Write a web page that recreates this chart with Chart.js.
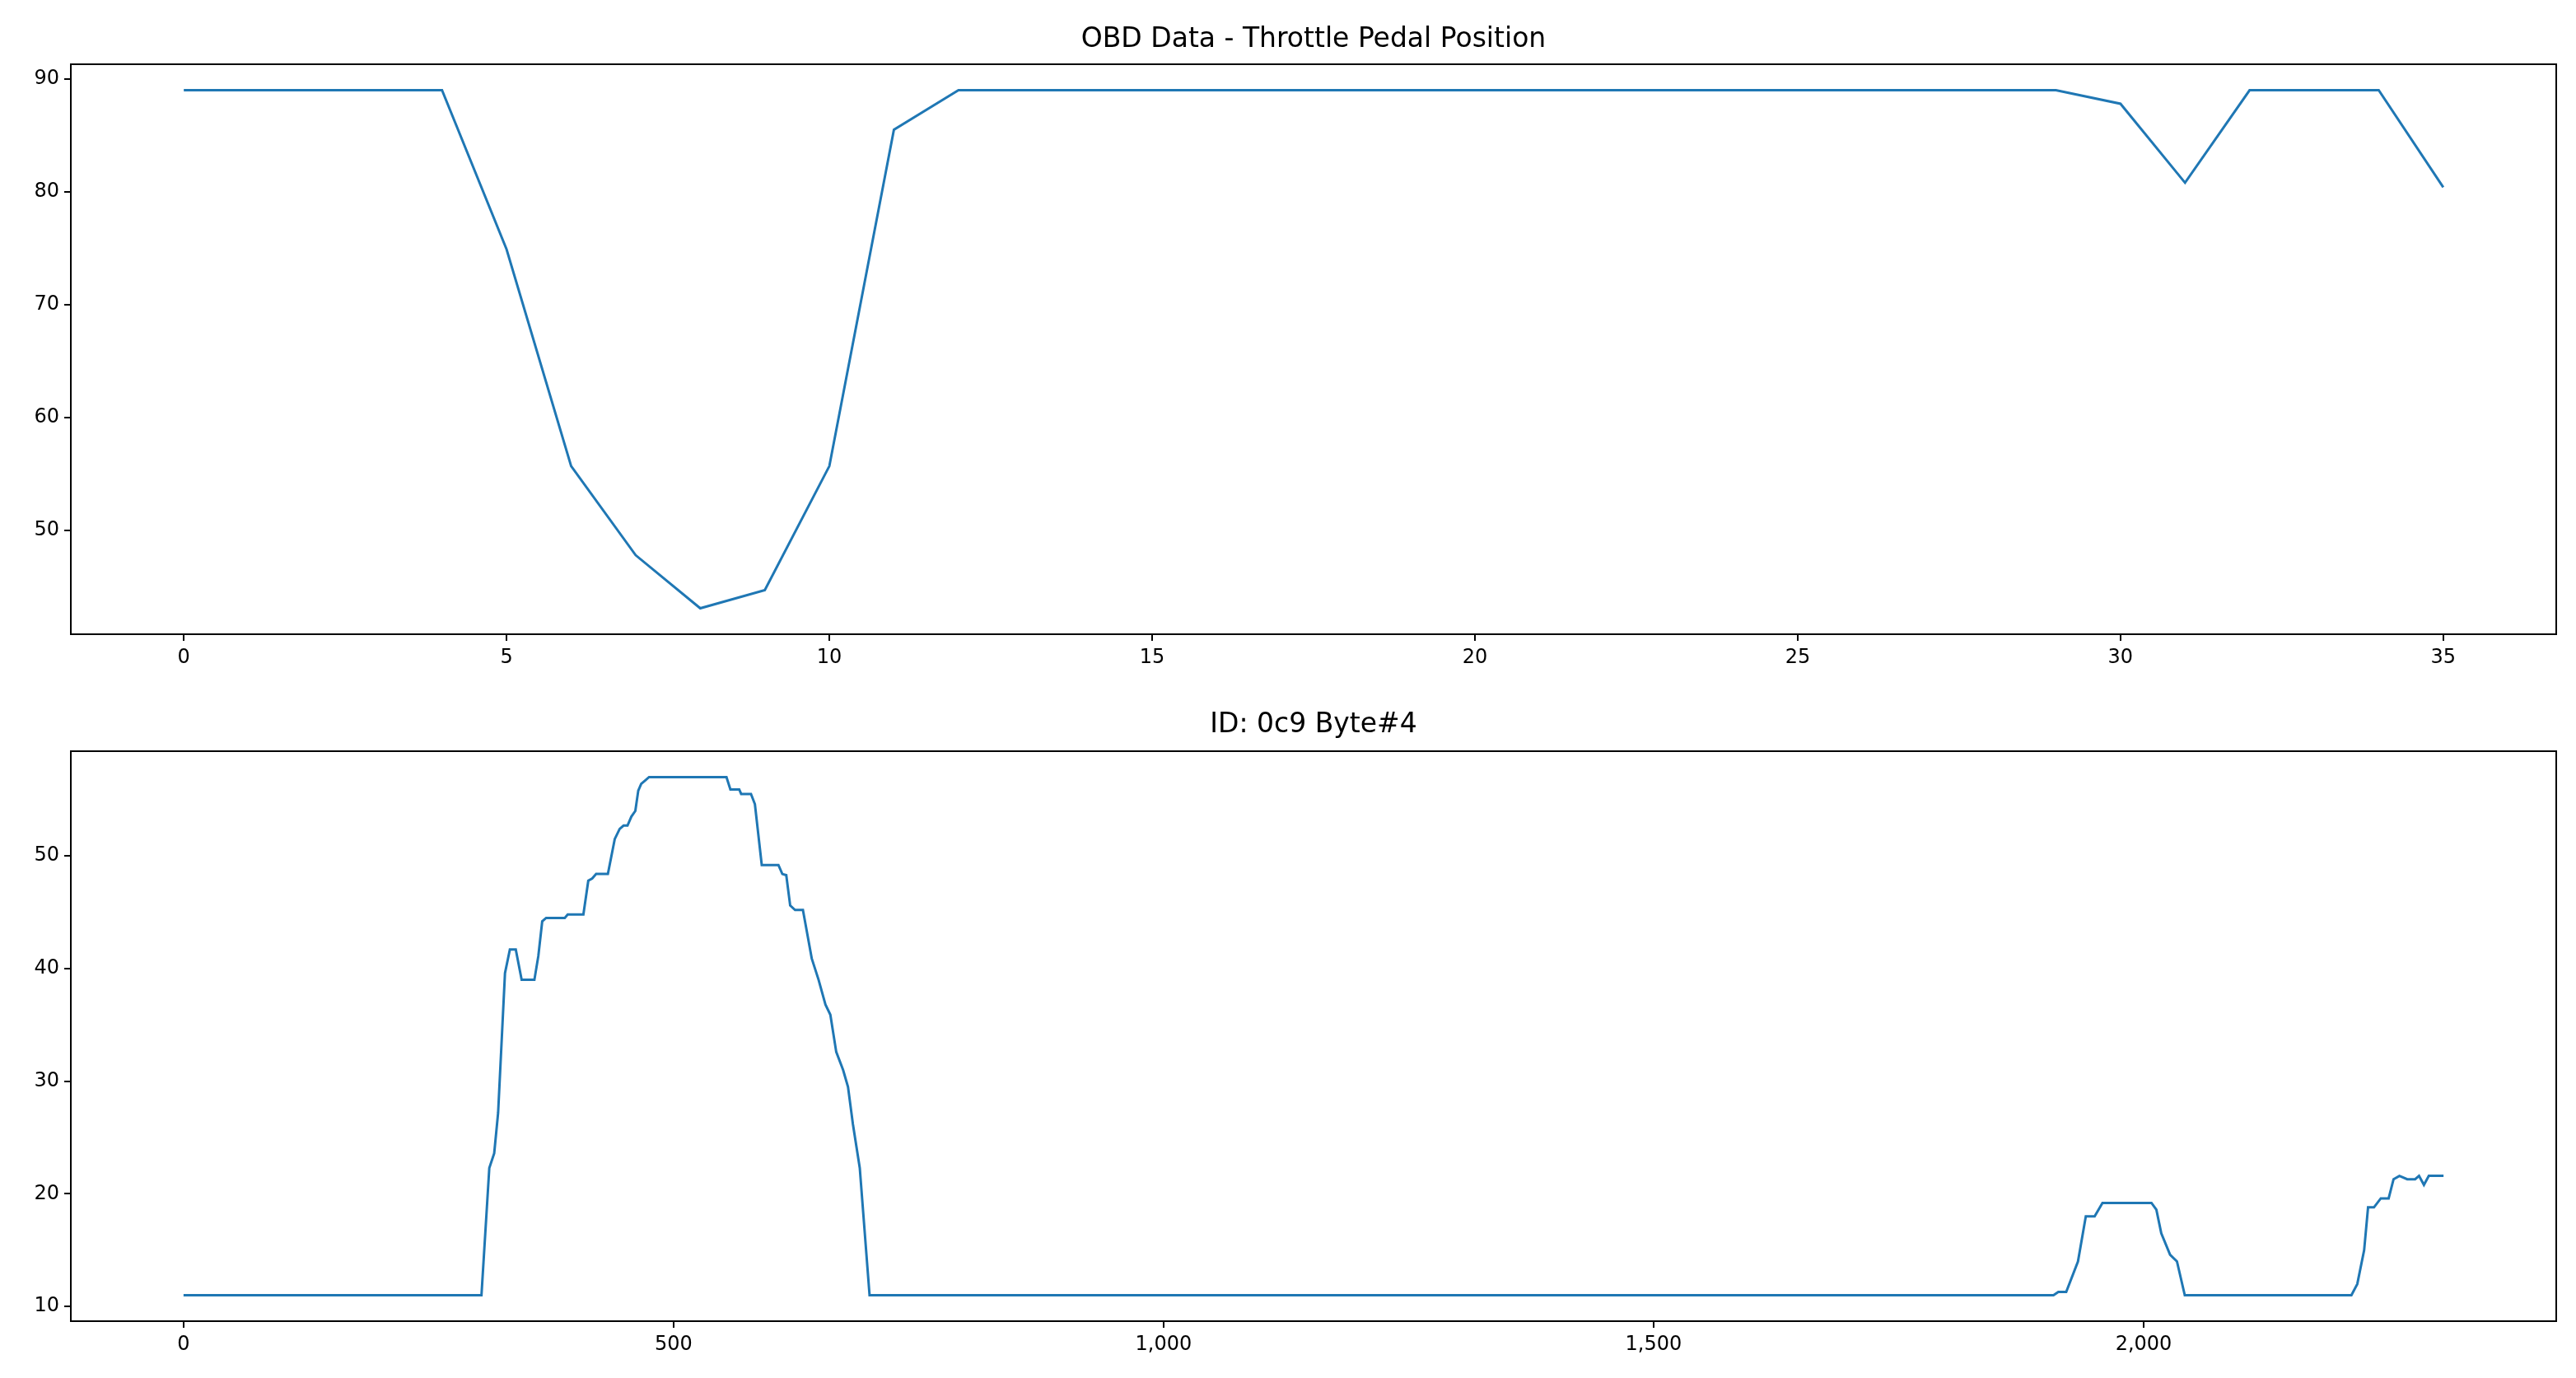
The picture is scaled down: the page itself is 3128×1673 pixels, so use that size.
<!DOCTYPE html>
<html>
<head>
<meta charset="utf-8">
<script src="https://cdn.jsdelivr.net/npm/chart.js@4"></script>
<style>
  body { margin: 0; background: #fff; width: 3128px; height: 1673px; overflow: hidden; font-family: "DejaVu Sans", sans-serif; }
  .box { position: absolute; left: 0; width: 3128px; }
  .ttl { position: absolute; left: 86px; width: 3018px; text-align: center; font-size: 33px; color: #000; }
</style>
</head>
<body>
<div class="box" style="top:0;height:836px"><canvas id="obdChart"></canvas></div>
<div class="ttl" style="top:26px">OBD Data - Throttle Pedal Position</div>
<div class="box" style="top:836px;height:837px"><canvas id="canChart"></canvas></div>
<div class="ttl" style="top:858px">ID: 0c9 Byte#4</div>
<script>
// OBD 데이터 (스로틀 페달 위치)
const obdIdx = [0,1,2,3,4,5,6,7,8,9,10,11,12,13,14,15,16,17,18,19,20,21,22,23,24,25,26,27,28,29,30,31,32,33,34,35];
const obdVal = [89,89,89,89,89,74.9,55.7,47.8,43.1,44.7,55.7,85.5,89,89,89,89,89,89,89,89,89,89,89,89,89,89,89,89,89,89,87.8,80.8,89,89,89,80.4];
const obdTicksX = [0,5,10,15,20,25,30,35];
const obdTicksY = [50,60,70,80,90];

// CAN ID 0c9 Byte#4
const canIdx = [0,304,312,317,321,328,333,339,345,358,362,366,370,389,392,408,413,417,421,433,440,445,449,453,457,461,464,467,471,475,554,558,567,569,579,583,590,607,611,615,619,624,632,641,648,655,660,666,673,678,683,690,700,
  1908,1913,1921,1933,1941,1950,1958,2008,2013,2018,2027,2034,2042,2212,2218,2225,2229,2235,2242,2250,2255,2261,2269,2277,2281,2286,2291,2306];
const canVal = [11,11,22.3,23.6,27.2,39.6,41.7,41.7,39,39,41.1,44.2,44.5,44.5,44.8,44.8,47.8,48,48.4,48.4,51.5,52.4,52.7,52.7,53.5,54,55.8,56.4,56.7,57,57,55.9,55.9,55.5,55.5,54.6,49.2,49.2,48.4,48.3,45.6,45.2,45.2,40.9,39,36.8,35.9,32.6,31,29.5,26.2,22.3,11,
  11,11.3,11.3,14,18,18,19.2,19.2,18.6,16.5,14.6,14,11,11,12,15,18.8,18.8,19.6,19.6,21.3,21.6,21.3,21.3,21.6,20.8,21.6,21.6];
const canTicksX = [0,500,1000,1500,2000];
const canTicksY = [10,20,30,40,50];

const frame = {
  id: 'frame',
  afterDraw(chart) {
    const a = chart.chartArea, c = chart.ctx;
    c.save(); c.strokeStyle = '#000'; c.lineWidth = 2;
    c.strokeRect(a.left, a.top, a.right - a.left, a.bottom - a.top);
    c.restore();
  }
};

function axis(min, max, ticks, isY, size) {
  return {
    type: 'linear', min: min, max: max,
    afterBuildTicks: s => { s.ticks = ticks.map(v => ({ value: v })); },
    afterFit: s => { if (isY) s.width = size; else s.height = size; },
    grid: { drawOnChartArea: false, drawTicks: true, tickLength: 8, color: '#000', lineWidth: 2 },
    border: { display: false },
    ticks: { color: '#000', font: { family: 'DejaVu Sans', size: 24 }, padding: 6, maxRotation: 0, autoSkip: false }
  };
}

function makeChart(id, xs, ys, xr, yr, xt, yt, top, bottomH) {
  new Chart(document.getElementById(id), {
    type: 'line',
    data: { datasets: [{ data: xs.map((x, i) => ({ x: x, y: ys[i] })), borderColor: '#1f77b4', borderWidth: 3, pointRadius: 0, tension: 0 }] },
    options: {
      responsive: true, maintainAspectRatio: false, animation: false,
      layout: { padding: { top: top, right: 24, left: 0, bottom: 0 } },
      plugins: { legend: { display: false }, tooltip: { enabled: false } },
      scales: { x: axis(xr[0], xr[1], xt, false, bottomH), y: axis(yr[0], yr[1], yt, true, 86) }
    },
    plugins: [frame]
  });
}

makeChart('obdChart', obdIdx, obdVal, [-1.75, 36.75], [40.8, 91.3], obdTicksX, obdTicksY, 78, 66);
makeChart('canChart', canIdx, canVal, [-115, 2421], [8.7, 59.3], canTicksX, canTicksY, 76, 69);
</script>
</body>
</html>
